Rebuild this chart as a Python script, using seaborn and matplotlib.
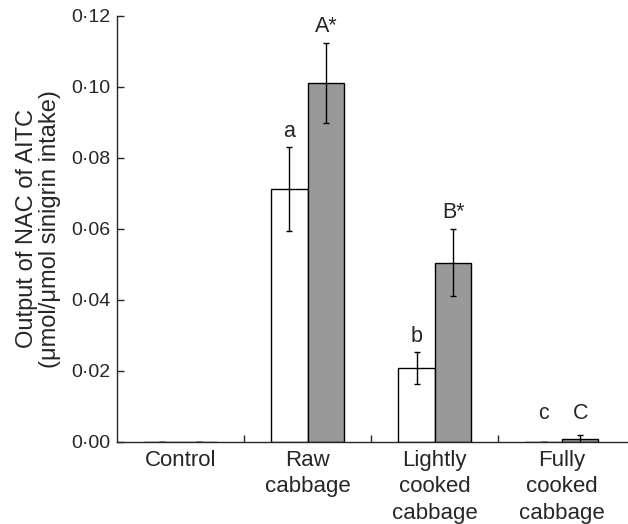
import numpy as np
import pandas as pd
import matplotlib
matplotlib.use("Agg")
import matplotlib.pyplot as plt
import seaborn as sns

# data
groups = ["Control", "Raw\ncabbage", "Lightly\ncooked\ncabbage", "Fully\ncooked\ncabbage"]
white_vals = [0.0, 0.0712, 0.0208, 0.0]
white_err = [0.0, 0.0118, 0.0045, 0.0]
grey_vals = [0.0, 0.1011, 0.0505, 0.0008]
grey_err = [0.0, 0.0113, 0.0095, 0.0012]
white_letters = ["", "a", "b", "c"]
grey_letters = ["", "A*", "B*", "C"]
series = ["white", "grey"]

sns.set_style("ticks")
plt.rcParams['font.family'] = ['Liberation Sans', 'DejaVu Sans']

df = pd.DataFrame({
    "group": groups * 2,
    "series": [series[0]] * 4 + [series[1]] * 4,
    "value": white_vals + grey_vals,
})

fig = plt.figure(figsize=(6.28, 5.24), dpi=100)
ax = fig.add_axes([0.1863, 0.1565, 0.8137, 0.813])

sns.barplot(data=df, x="group", y="value", hue="series", order=groups,
            hue_order=series, palette=["white", "#999999"], width=0.575,
            edgecolor="black", linewidth=1.0, errorbar=None, legend=False,
            saturation=1, ax=ax)

errs = [white_err, grey_err]
vals = [white_vals, grey_vals]
letters = [white_letters, grey_letters]
bar_conts = list(ax.containers)
for k, cont in enumerate(bar_conts):
    for i, p in enumerate(cont.patches):
        xc = p.get_x() + p.get_width() / 2
        ax.errorbar(xc, vals[k][i], yerr=errs[k][i], color="black",
                    lw=1.0, capsize=2.5, capthick=1.0)
        if letters[k][i]:
            top = max(vals[k][i] + errs[k][i], 0.0034)
            ax.annotate(letters[k][i], (xc, top), xytext=(0, 4),
                        textcoords="offset points", ha="center", va="bottom",
                        fontsize=15.5)

ax.set_ylim(0, 0.12)
ax.set_xlim(-0.5, 3.52)
yt = np.arange(0, 0.121, 0.02)
ax.set_yticks(yt)
ax.set_yticklabels([f"{t:.2f}".replace(".", "\u00b7") for t in yt], fontsize=14)
ax.set_xticks(range(4))
ax.set_xticklabels(groups, fontsize=16, linespacing=1.32)
ax.set_xticks([0.5, 1.5, 2.5], minor=True)
ax.tick_params(axis="x", which="major", length=0, pad=6)
ax.tick_params(axis="x", which="minor", direction="in", length=5, width=1.0)
ax.tick_params(axis="y", direction="in", length=5, width=1.0, pad=5)
ax.set_xlabel("")
ax.set_ylabel("Output of NAC of AITC\n(\u03bcmol/\u03bcmol sinigrin intake)",
              fontsize=17, linespacing=1.05, labelpad=7)
sns.despine(ax=ax)
for s in ["left", "bottom"]:
    ax.spines[s].set_linewidth(1.0)

fig.savefig("out.png", dpi=100)
